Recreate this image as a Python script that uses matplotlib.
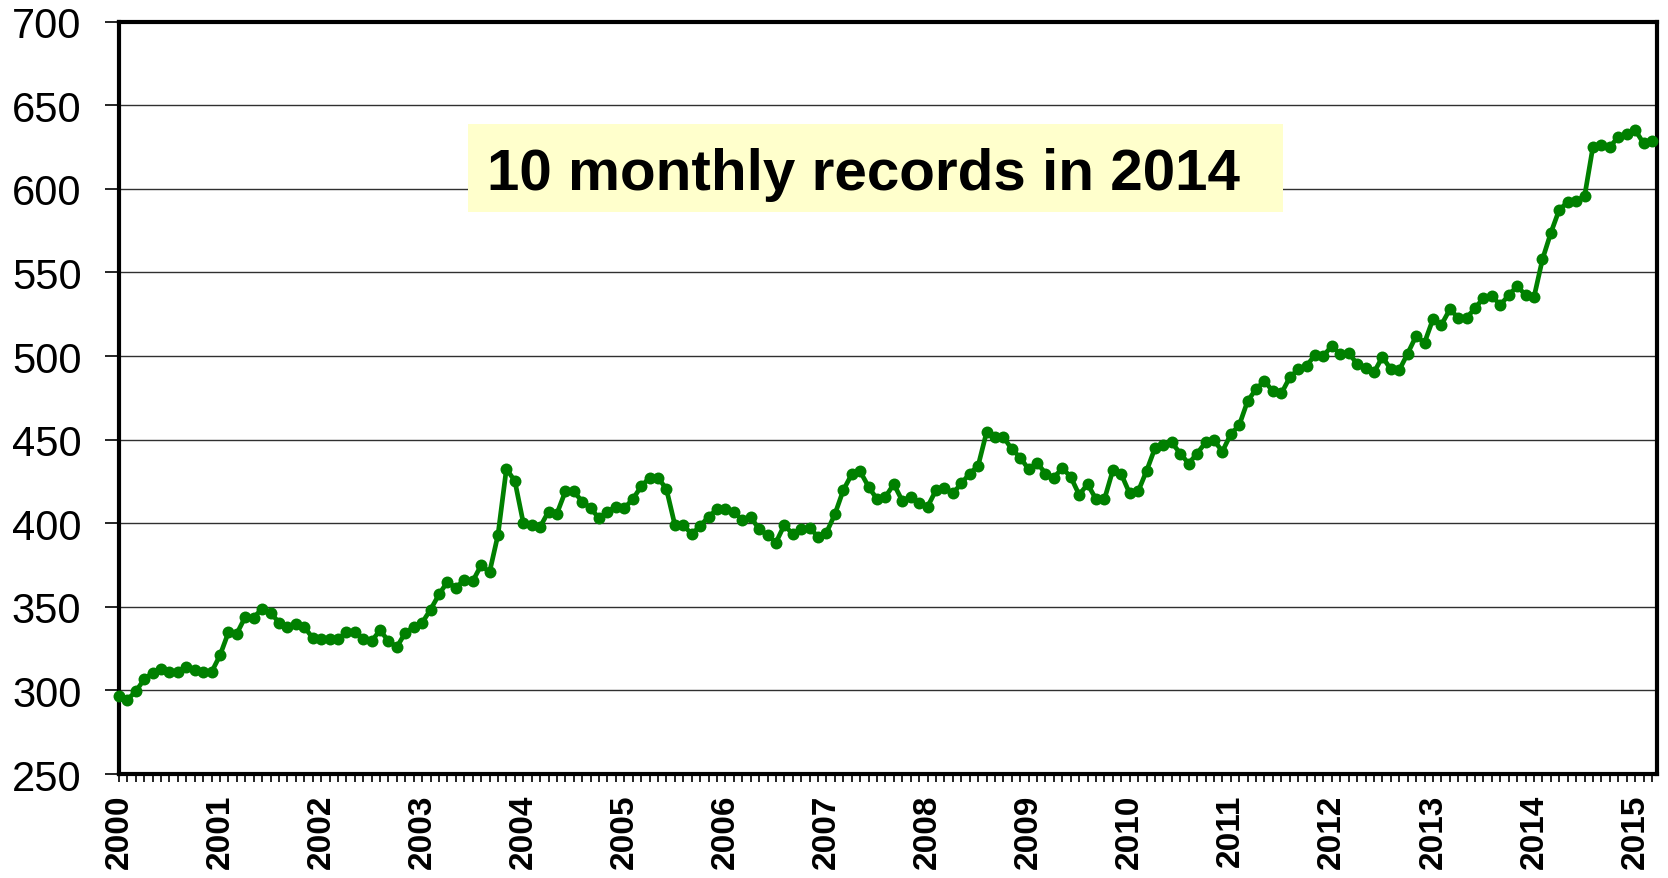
import matplotlib
matplotlib.use('Agg')
import matplotlib.pyplot as plt
from matplotlib.patches import Rectangle

plt.rcParams['font.family'] = ['Liberation Sans', 'DejaVu Sans']

# monthly values, Jan 2000 .. Mar 2015
v2000 = [296.5, 294.5, 299.4, 306.7, 310.6, 313.0, 311.0, 311.0, 314.0, 312.5, 311.0, 311.0]
v2001 = [321.0, 334.7, 334.0, 344.0, 343.5, 349.0, 346.5, 340.6, 338.0, 339.6, 338.0, 331.4]
v2002 = [330.5, 330.5, 330.5, 335.0, 335.0, 331.0, 329.5, 336.0, 329.5, 326.0, 334.5, 338.0]
v2003 = [340.5, 348.4, 357.4, 365.0, 361.3, 366.3, 365.3, 374.9, 370.7, 393.0, 432.5, 425.3]
v2004 = [400.4, 399.0, 397.8, 407.0, 405.8, 419.0, 419.0, 413.0, 409.0, 403.0, 407.0, 409.8]
v2005 = [409.0, 414.4, 422.0, 427.3, 427.3, 420.4, 399.0, 399.0, 393.4, 398.4, 403.8, 408.4]
v2006 = [408.4, 407.0, 401.8, 403.8, 396.4, 393.0, 388.4, 399.0, 393.4, 396.4, 397.4, 391.8]
v2007 = [394.4, 405.4, 419.8, 429.3, 431.0, 421.8, 414.4, 415.8, 423.4, 413.4, 415.8, 412.4]
v2008 = [409.8, 419.8, 421.0, 417.8, 423.8, 429.7, 434.3, 454.3, 451.7, 451.7, 444.3, 439.3]
v2009 = [432.3, 436.3, 429.7, 427.3, 433.0, 427.7, 417.0, 423.4, 414.4, 414.4, 431.7, 429.3]
v2010 = [417.8, 419.0, 431.3, 444.9, 446.9, 448.3, 441.7, 435.7, 441.7, 448.3, 449.7, 442.9]
v2011 = [453.3, 458.6, 473.1, 480.2, 485.2, 478.8, 477.6, 487.2, 492.1, 494.1, 500.7, 500.1]
v2012 = [506.1, 501.1, 502.1, 495.1, 493.1, 490.2, 499.5, 492.1, 491.6, 501.5, 512.0, 508.0]
v2013 = [522.0, 518.6, 527.9, 523.0, 523.0, 528.5, 534.9, 535.9, 530.5, 536.5, 541.8, 536.5]
v2014 = [535.3, 557.8, 573.7, 587.6, 592.0, 592.8, 595.5, 625.3, 626.3, 624.8, 631.3, 632.7]
v2015 = [635.3, 627.3, 628.7]

values = (v2000 + v2001 + v2002 + v2003 + v2004 + v2005 + v2006 + v2007 +
          v2008 + v2009 + v2010 + v2011 + v2012 + v2013 + v2014 + v2015)
years = [str(y) for y in range(2000, 2016)]
yticks = list(range(250, 701, 50))
note = '10 monthly records in 2014'

fig = plt.figure(figsize=(16.68, 8.79), dpi=100)
ax = fig.add_axes([0.0713, 0.1183, 0.9221, 0.8559])

x = list(range(len(values)))
ax.plot(x, values, color='#008000', lw=3.4, marker='o', ms=8.6,
        markeredgewidth=0, zorder=4, clip_on=False)

ax.set_xlim(0, len(values) - 0.4)
ax.set_ylim(250, 700)

ax.set_yticks(yticks)
ax.set_yticklabels([str(t) for t in yticks], fontsize=30)
ax.tick_params(axis='y', direction='out', length=10, width=1.2, pad=17)
ax.yaxis.grid(True, color='#303030', lw=1.0)
ax.set_axisbelow(True)

ax.set_xticks(list(range(0, len(values), 12)))
ax.set_xticklabels(years, rotation=90, fontsize=24, fontweight='bold')
ax.set_xticks(x, minor=True)
ax.tick_params(axis='x', which='both', direction='out', length=6, width=1.2, pad=8)

for s in ax.spines.values():
    s.set_linewidth(3)
    s.set_color('black')

# yellow note box
ax.add_patch(Rectangle((0.227, 0.747), 0.530, 0.117, transform=ax.transAxes,
                       facecolor='#ffffcc', edgecolor='none', zorder=3))
ax.text(0.2396, 0.797, note, transform=ax.transAxes, fontsize=42,
        fontweight='bold', ha='left', va='center', zorder=5)

fig.savefig('out.png', dpi=100)
